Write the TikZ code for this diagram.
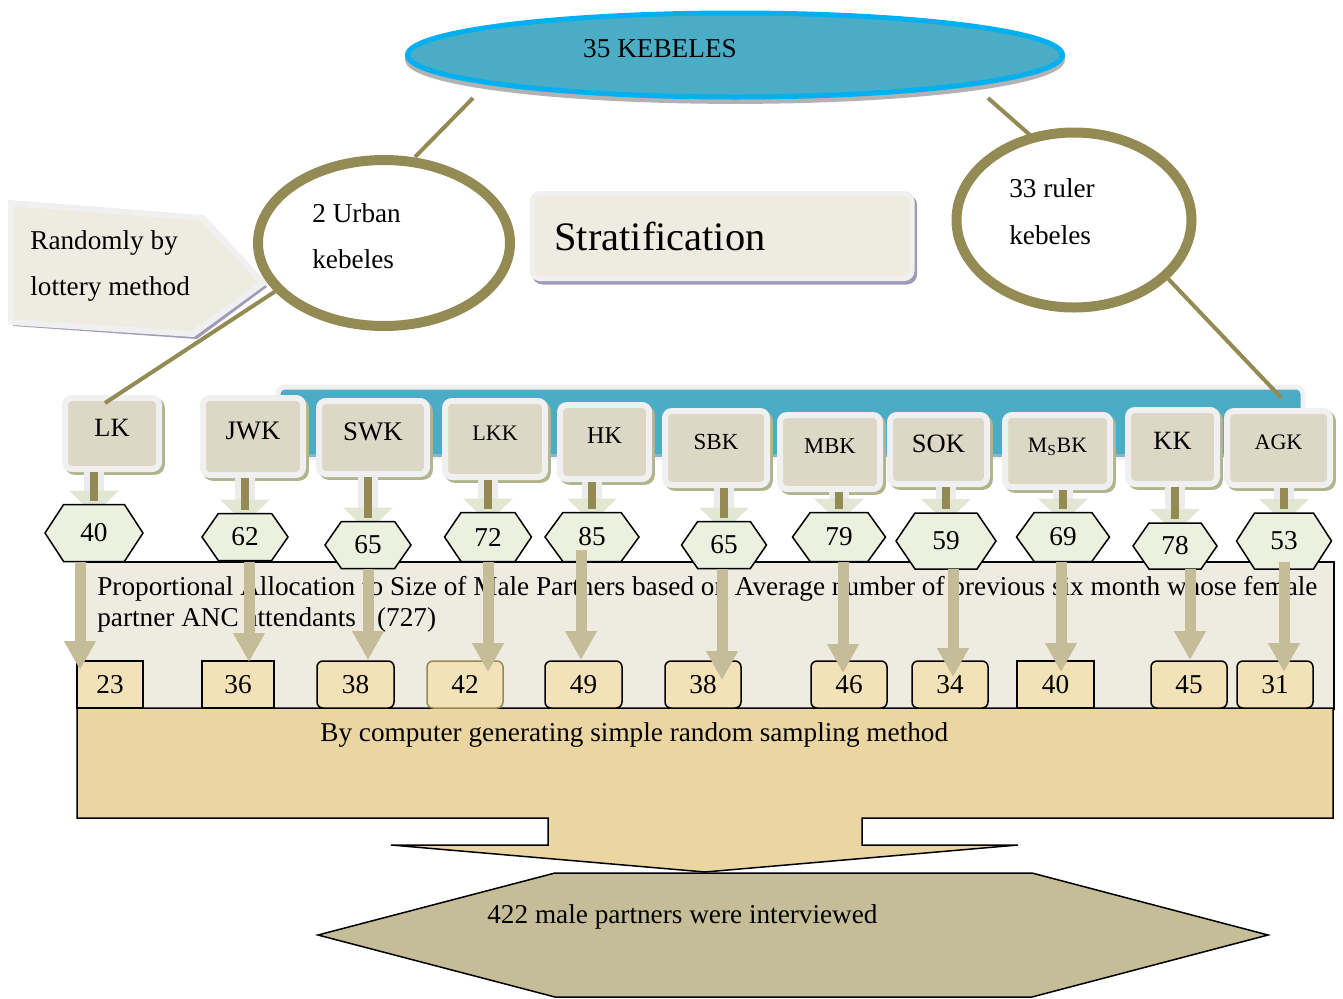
\documentclass[tikz,border=0pt]{standalone}
\usepackage{fontspec}
\setmainfont{Liberation Serif}
\usetikzlibrary{shapes.geometric,shadows,calc,arrows.meta}
\newcommand\pxu{0.02cm}
\definecolor{olivel}{HTML}{948A54}
\definecolor{bluef}{HTML}{4BACC6}
\definecolor{bluee}{HTML}{00B0F0}
\definecolor{creamf}{HTML}{EEECE1}
\definecolor{lgray}{HTML}{F0F0F0}
\definecolor{lav}{HTML}{A09CB8}
\definecolor{kebf}{HTML}{DDD7C6}
\definecolor{kebsh}{HTML}{B2B48C}
\definecolor{hexf}{HTML}{EBF1DE}
\definecolor{tanar}{HTML}{C4BD97}
\definecolor{numf}{HTML}{F3E1B8}
\definecolor{papy}{HTML}{EBD6A2}
\definecolor{chev}{HTML}{E2E7D4}
\definecolor{arrg}{HTML}{ECECEC}
\definecolor{barsh}{HTML}{8FB3C3}
\begin{document}
\begin{tikzpicture}[x=0.02cm,y=-0.02cm,font=\fontsize{15.5}{18}\selectfont,
  oline/.style={draw=olivel,line width=4*\pxu},
  kebbox/.style={rounded corners=7*\pxu,fill=kebf,draw=lgray,line width=6*\pxu,inner sep=0,
    drop shadow={shadow xshift=1.6pt,shadow yshift=-1.6pt,fill=kebsh,draw=kebsh,line width=6*\pxu,opacity=1}},
  rc/.style={rounded corners=6*\pxu},
  sc/.style={sharp corners},
  txt/.style={anchor=west,align=left,inner sep=0},
  longarrow/.style={draw=tanar,line width=11*\pxu,-{Triangle[width=0.6cm,length=0.58cm]}}]
\useasboundingbox (0,0) rectangle (1343,998);

% top ellipse
\node[ellipse,minimum width=655*\pxu,minimum height=84*\pxu,fill=bluef,draw=bluee,line width=5*\pxu,inner sep=0,
  drop shadow={shadow xshift=0pt,shadow yshift=-2.5pt,fill=gray!60,draw=gray!60,line width=5*\pxu,opacity=1}] (top) at (735,55) {};
\node (toptxt) at (660,49) {35 KEBELES};

% pentagon arrow
\fill[lav] (13,206) -- (206,222) -- (267,287) -- (197,339) -- (13,326) -- cycle;
\filldraw[fill=creamf,draw=lgray,line width=6*\pxu,line join=miter] (11,203) -- (203,218) -- (263,283) -- (193,334) -- (11,322) -- cycle;
\node[txt,font=\fontsize{15.5}{26.6}\selectfont] (lottery) at (30,266) {Randomly by\\lottery method};

% ellipses
\node[ellipse,draw=olivel,line width=10*\pxu,fill=white,minimum width=252*\pxu,minimum height=166*\pxu,inner sep=0] (urban) at (384,243) {};
\node[txt,font=\fontsize{15.5}{26.1}\selectfont] (urbtxt) at (312,236) {2 Urban\\kebeles};
\node[ellipse,draw=olivel,line width=10*\pxu,fill=white,minimum width=235*\pxu,minimum height=175*\pxu,inner sep=0] (rural) at (1074,220) {};
\node[txt,font=\fontsize{15.5}{26.6}\selectfont] (rurtxt) at (1009,212) {33 ruler\\kebeles};

\draw[oline] ($(top.center)+(-262,43)$) -- ($(urban.center)+(31,-86)$);
\draw[oline] ($(top.center)+(253,43)$) -- ($(rural.center)+(-44,-85)$);

% stratification
\node[draw=lgray,fill=creamf,line width=5*\pxu,rounded corners=8*\pxu,minimum width=380*\pxu,minimum height=85*\pxu,
  text width=335*\pxu,align=left,inner sep=0,font=\fontsize{23}{26}\selectfont,
  drop shadow={shadow xshift=1.5pt,shadow yshift=-2pt,fill=lav,draw=lav,line width=5*\pxu,opacity=1}] (strat) at (722,236) {Stratification};

% blue bar
\node[fill=bluef,draw=lgray,line width=5*\pxu,rounded corners=7*\pxu,minimum width=1025*\pxu,minimum height=70*\pxu,inner sep=0] (bar) at (790.5,422) {};
\draw[barsh,line width=3*\pxu] ($(bar.south west)+(6,-4)$) -- ($(bar.south east)+(-6,-4)$);

% proportional allocation box
\node[draw,fill=creamf,line width=1.5*\pxu,minimum width=1256*\pxu,minimum height=147*\pxu,inner sep=0,anchor=north west] (prop) at (77,561) {};
\node[anchor=north west,align=left,inner sep=0,font=\fontsize{15.5}{17.6}\selectfont] (proptxt) at (97,576)
  {Proportional Allocation to Size of Male Partners based on Average number of previous six month whose female\\partner ANC attendants\hspace{12pt}(727)};

% computer sampling arrow box
\draw[fill=papy,line width=1.5*\pxu] (77,708) -- (1333,708) -- (1333,818) -- (862,818) -- (862,845) -- (1018,845)
  -- (705,872) -- (391,845) -- (548,845) -- (548,818) -- (77,818) -- cycle;
\node[txt] (comp) at (320,735) {By computer generating simple random sampling method};

% number boxes
\foreach \n/\xa/\xb/\t/\r/\col in {n23/77/143/23/sc/black,n36/202/274/36/sc/black,n38a/317/394/38/rc/black,
  n42/427/503/42/rc/olivel,n49/545/622/49/rc/black,n38b/665/741/38/rc/black,n46/811/887/46/rc/black,
  n34/912/988/34/rc/black,n40/1017/1094/40/sc/black,n45/1151/1227/45/rc/black,n31/1237/1313/31/rc/black}
  \node[\r,draw=\col,fill=numf,line width=1.5*\pxu,minimum width=(\xb-\xa)*\pxu,minimum height=47*\pxu,inner sep=0]
    (\n) at ({(\xa+\xb)/2},684.5) {\t};

% kebele boxes
\foreach \n/\xa/\ya/\xb/\yb/\s/\t in {LK/62/395/162/472/15/LK,JWK/200/395/306/478/15.2/JWK,
  SWK/316/398/430/477/15.3/SWK,LKK/442/398/548/480/12.6/LKK,HK/557/402/652/482/13.7/HK,
  SBK/662/408/770/488/13.1/SBK,MBK/777/412/883/492/12.9/MBK,SOK/887/412/990/487/15.1/SOK,
  MSBK/1002/412/1113/490/12.5/{M\textsubscript{S}BK},KK/1125/407/1220/487/15/KK,AGK/1224/408/1333/488/12.6/AGK}
  \node[kebbox,minimum width=(\xb-\xa-6)*\pxu,minimum height=(\yb-\ya-6)*\pxu,font=\fontsize{\s}{\s}\selectfont]
    (\n) at ({(\xa+\xb)/2},{(\ya+\yb)/2}) {\raisebox{0.24cm}{\t}};

% hexagon placeholders (positions)
\foreach \n/\x/\y/\w/\h in {h40/94/533/98/57,h62/245/537/86/47,h65a/368/545/86/47,h72/488/537/87/49,
  h85/592/537/94/49,h65b/724/545/85/47,h79/839/537/93/49,h59/946/541/100/56,h69/1063/537/93/49,
  h78/1175/546/84/46,h53/1284/541/95/56}
  \node[minimum width=\w*\pxu,minimum height=\h*\pxu,inner sep=0,outer sep=0] (\n) at (\x,\y) {};

% small arrows kebele -> hexagon
\foreach \k/\n in {LK/h40,JWK/h62,SWK/h65a,LKK/h72,HK/h85,SBK/h65b,MBK/h79,SOK/h59,MSBK/h69,KK/h78,AGK/h53}{
  \coordinate (s) at (\n.north |- \k.south);
  \fill[arrg] ($(s)+(-10,0)$) rectangle ($(\n.north)+(10,-12)$);
  \fill[chev] ($(\n.north)+(-25,-14)$) -- ($(\n.north)+(25,-14)$) -- ($(\n.north)+(0,10)$) -- cycle;
  \draw[olivel,line width=8*\pxu] (s) -- ($(\n.north)+(0,-4)$);
}

% hexagons
\foreach \n/\x/\y/\w/\h/\t in {h40/94/533/98/57/40,h62/245/537/86/47/62,h65a/368/545/86/47/65,h72/488/537/87/49/72,
  h85/592/537/94/49/85,h65b/724/545/85/47/65,h79/839/537/93/49/79,h59/946/541/100/56/59,h69/1063/537/93/49/69,
  h78/1175/546/84/46/78,h53/1284/541/95/56/53}{
  \pgfmathsetmacro\ins{0.19*\w}
  \filldraw[fill=hexf,draw=black,line width=1.5*\pxu] ({\x-\w/2},\y) -- ({\x-\w/2+\ins},{\y-\h/2}) -- ({\x+\w/2-\ins},{\y-\h/2})
    -- ({\x+\w/2},\y) -- ({\x+\w/2-\ins},{\y+\h/2}) -- ({\x-\w/2+\ins},{\y+\h/2}) -- cycle;
  \node[minimum width=\w*\pxu,minimum height=\h*\pxu,inner sep=0,outer sep=0] (\n) at (\x,\y) {\t};
}

% long arrows
\foreach \x/\ya/\yb in {80/562/670,249/562/662,368/569/660,488/562/672,581/550/660,722/569/680,
  843/562/673,953/569/677,1061/562/672,1190/569/660,1284/562/672}
  \draw[longarrow] (\x,\ya) -- (\x,\yb);

% connectors from ellipses
\draw[oline] (urban.204) -- ($(LK.north)+(-7,8)$);
\draw[oline] (rural.-32.5) -- ($(AGK.north)+(3,-10)$);

% final hexagon
\draw[fill=tanar,line width=1.5*\pxu] (318,935) -- (555,873) -- (1032,873) -- (1268,935) -- (1032,997) -- (555,997) -- cycle;
\node[txt] (final) at (487,917) {422 male partners were interviewed};
\end{tikzpicture}
\end{document}
